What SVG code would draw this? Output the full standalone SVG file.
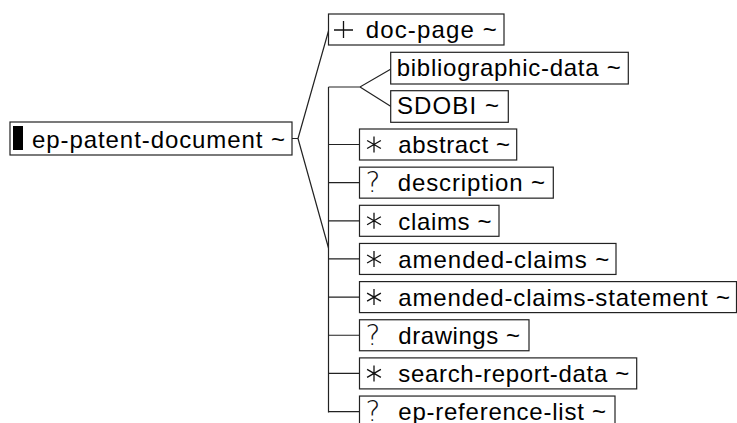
<svg xmlns="http://www.w3.org/2000/svg" width="737" height="423" viewBox="0 0 737 423">
<defs>
<style>
.box{fill:#fff;stroke:#222;stroke-width:1.2}
.lbl{font-family:"Liberation Sans",Arial,sans-serif;font-size:24px;fill:#000}
.q{font-family:"DejaVu Sans","Liberation Sans",sans-serif;font-weight:200;font-size:28px;fill:#111}
.ic{stroke:#111;stroke-width:1.3;fill:none}
.con{stroke:#222;stroke-width:1.2;fill:none}
</style>
<g id="star"><path class="ic" d="M0,-8V8M-6.9,-4L6.9,4M-6.9,4L6.9,-4"/></g>
</defs>
<rect width="737" height="423" fill="#fff"/>
<g id="connectors">
<path class="con" d="M292,138.5H298M298,138.5L328.5,31M298,138.5L328.5,248"/>
<path class="con" d="M328.5,87V412.5M328.5,87H360L391,69M360,87L391,106.5"/>
<path class="con" d="M328.5,144.5H359.5M328.5,182.65H359.5M328.5,220.8H359.5M328.5,258.95H359.5M328.5,297.1H359.5M328.5,335.25H359.5M328.5,373.4H359.5M328.5,411.55H359.5"/>
</g>
<g id="ep-patent-document">
<rect class="box" x="10" y="122" width="282" height="33"/>
<rect x="13" y="126" width="10" height="24" fill="#000"/>
<text class="lbl" x="32" y="147.5" textLength="253">ep-patent-document ~</text>
</g>
<g id="doc-page">
<rect class="box" x="328.5" y="14" width="175.5" height="31"/>
<path class="ic" d="M334,30H353M343.5,21V38"/>
<text class="lbl" x="365.7" y="38" textLength="131">doc-page ~</text>
</g>
<g id="bibliographic-data">
<rect class="box" x="390.7" y="52.3" width="237.6" height="31.7"/>
<text class="lbl" x="396.7" y="76.3" textLength="224">bibliographic-data ~</text>
</g>
<g id="SDOBI">
<rect class="box" x="390.7" y="90.7" width="117.6" height="31.6"/>
<text class="lbl" x="397" y="114.3" textLength="102">SDOBI ~</text>
</g>
<g id="abstract">
<rect class="box" x="359.5" y="129" width="157.2" height="31"/>
<use href="#star" x="374" y="144.5"/>
<text class="lbl" x="398.3" y="153.3" textLength="111.7">abstract ~</text>
</g>
<g id="description">
<rect class="box" x="359.5" y="167.15" width="193.8" height="31"/>
<text class="q" x="365.5" y="192.4">?</text>
<text class="lbl" x="397.7" y="191.45" textLength="147.3">description ~</text>
</g>
<g id="claims">
<rect class="box" x="359.5" y="205.3" width="139.5" height="31"/>
<use href="#star" x="374" y="220.8"/>
<text class="lbl" x="398.3" y="229.6" textLength="93.3">claims ~</text>
</g>
<g id="amended-claims">
<rect class="box" x="359.5" y="243.45" width="256.5" height="31"/>
<use href="#star" x="374" y="258.95"/>
<text class="lbl" x="398.3" y="267.75" textLength="211">amended-claims ~</text>
</g>
<g id="amended-claims-statement">
<rect class="box" x="359.5" y="281.6" width="377" height="31"/>
<use href="#star" x="374" y="297.1"/>
<text class="lbl" x="398.3" y="305.9" textLength="331.7">amended-claims-statement ~</text>
</g>
<g id="drawings">
<rect class="box" x="359.5" y="319.75" width="169.5" height="31"/>
<text class="q" x="365.5" y="345">?</text>
<text class="lbl" x="398.3" y="344.05" textLength="121.7">drawings ~</text>
</g>
<g id="search-report-data">
<rect class="box" x="359.5" y="357.9" width="277.2" height="31"/>
<use href="#star" x="374" y="373.4"/>
<text class="lbl" x="398.3" y="382.2" textLength="231">search-report-data ~</text>
</g>
<g id="ep-reference-list">
<rect class="box" x="359.5" y="396.05" width="255.5" height="31"/>
<text class="q" x="365.5" y="421.3">?</text>
<text class="lbl" x="398.3" y="420.35" textLength="207.7">ep-reference-list ~</text>
</g>
</svg>
